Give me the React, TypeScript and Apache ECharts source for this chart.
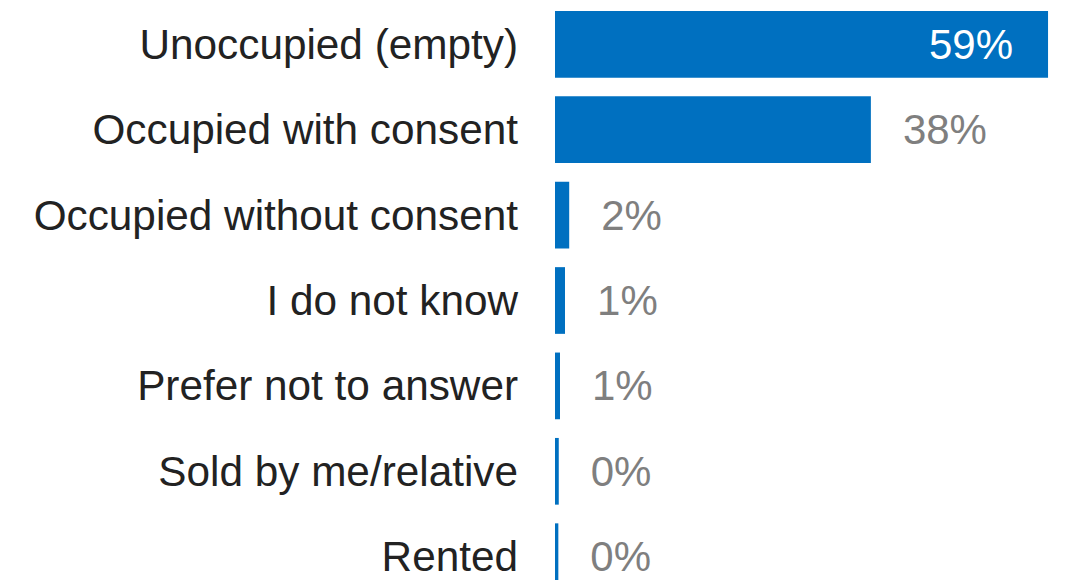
import React, { useEffect, useRef } from "react";
import * as echarts from "echarts";

const categories = [
  "Unoccupied (empty)",
  "Occupied with consent",
  "Occupied without consent",
  "I do not know",
  "Prefer not to answer",
  "Sold by me/relative",
  "Rented",
];
const values = [59, 37.8, 1.7, 1.2, 0.6, 0.45, 0.4];
const insideLabelIndex = 0;

const FONT = '"Liberation Sans", Arial, Helvetica, sans-serif';

export default function App() {
  const ref = useRef<HTMLDivElement>(null);
  useEffect(() => {
    if (!ref.current) return;
    const chart = echarts.init(ref.current, undefined, { renderer: "svg" });
    const data = values.map((v, i) =>
      i === insideLabelIndex
        ? { value: v, label: { position: "insideRight", color: "#ffffff", distance: 35 } }
        : { value: v }
    );
    chart.setOption({
      animation: false,
      backgroundColor: "#ffffff",
      grid: { left: 555, top: 1.6, width: 501.4, height: 597.8, containLabel: false },
      xAxis: {
        type: "value",
        min: 0,
        max: 60,
        show: false,
      },
      yAxis: {
        type: "category",
        data: categories,
        inverse: true,
        axisLine: { show: false },
        axisTick: { show: false },
        splitLine: { show: false },
        axisLabel: {
          margin: 37,
          fontSize: 42.3,
          fontFamily: FONT,
          color: "#222222",
        },
      },
      series: [
        {
          type: "bar",
          data,
          barWidth: 66.7,
          itemStyle: { color: "#0070C0" },
          label: {
            show: true,
            position: "right",
            distance: 32,
            fontSize: 42,
            fontFamily: FONT,
            color: "#7f7f7f",
            formatter: (p: any) => Math.round(p.value) + "%",
          },
        },
      ],
    });
    return () => chart.dispose();
  }, []);
  return (
    <div
      style={{ position: "absolute", left: 0, top: 0, width: 1075, height: 580, overflow: "hidden" }}
    >
      <div ref={ref} style={{ width: 1075, height: 610 }} />
    </div>
  );
}
